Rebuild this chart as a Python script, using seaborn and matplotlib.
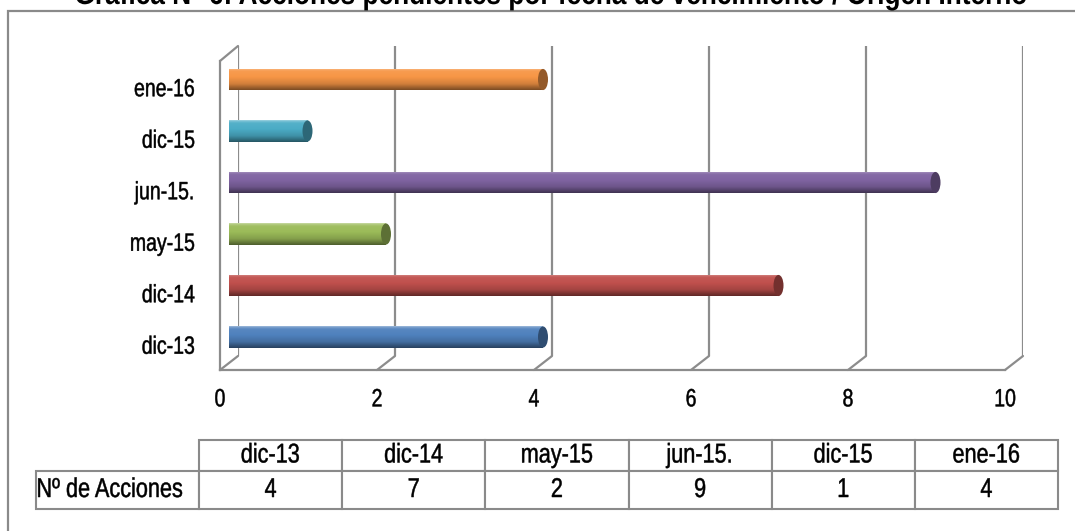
import numpy as np
import pandas as pd
import matplotlib
matplotlib.use("Agg")
import matplotlib.pyplot as plt
import seaborn as sns
from matplotlib.patches import Rectangle, Ellipse
from matplotlib.patches import ConnectionPatch
from matplotlib.table import Table
from matplotlib.colors import to_rgb
from matplotlib.patheffects import AbstractPathEffect
from matplotlib.transforms import Affine2D
from matplotlib import font_manager as fm

# ---------------- data ----------------
categories = ["dic-13", "dic-14", "may-15", "jun-15.", "dic-15", "ene-16"]
acciones = [4, 7, 2, 9, 1, 4]
colors = ["#4F81BD", "#C0504D", "#9BBB59", "#8064A2", "#4BACC6", "#F79646"]
x_ticks = [0, 2, 4, 6, 8, 10]
row_label = "Nº de Acciones"
title = "Gráfica N° 6: Acciones pendientes por fecha de vencimiento / Origen Interno"

sns.set_theme(style="white")
names = {f.name for f in fm.fontManager.ttflist}
FONT = "Liberation Sans" if "Liberation Sans" in names else "DejaVu Sans"
plt.rcParams["font.family"] = [FONT, "DejaVu Sans"]
for k in ["text.color", "xtick.color", "ytick.color", "axes.labelcolor"]:
    plt.rcParams[k] = "black"


class Condense(AbstractPathEffect):
    """Draw text horizontally condensed (Arial Narrow look), slightly emboldened."""
    def __init__(self, sx=0.82, anchor="center", stroke=0.35):
        super().__init__()
        self.sx = sx
        self.anchor = anchor
        self.stroke = stroke

    def draw_path(self, renderer, gc, tpath, affine, rgbFace=None):
        ext = tpath.get_extents()
        if self.anchor == "left":
            a = 0.0
        elif self.anchor == "right":
            a = ext.x1
        else:
            a = 0.5 * (ext.x0 + ext.x1)
        t = Affine2D().translate(-a, 0).scale(self.sx, 1).translate(a, 0) + affine
        gc0 = renderer.new_gc()
        gc0.copy_properties(gc)
        if rgbFace is not None and self.stroke > 0:
            gc0.set_foreground(rgbFace)
            gc0.set_linewidth(self.stroke)
            gc0.set_joinstyle("round")
        renderer.draw_path(gc0, tpath, t, rgbFace)
        gc0.restore()


W, H = 1075, 531
fig = plt.figure(figsize=(W / 100, H / 100), dpi=100)
fig.patch.set_facecolor("white")

def rect(l, t, r, b):
    return [l / W, 1 - b / H, (r - l) / W, (b - t) / H]

GRID = "#8c8c8c"

# outer chart frame
fig.patches.append(Rectangle((7.5 / W, -0.1), 1.2, 1.1 - 11 / H, transform=fig.transFigure,
                             fill=False, edgecolor="#8a8a8a", lw=1.6, clip_on=False))

# title (cropped at top as in reference)
ttl = fig.text(551 / W, 1 - 4 / H, title, ha="center", va="baseline", fontsize=20,
               fontweight="bold", color="black")
fig.canvas.draw()
tw = ttl.get_window_extent().width
ttl.set_fontsize(20 * 953.0 / tw / 0.85)
ttl.set_path_effects([Condense(0.85, "center", 0.0)])

# back wall axes
back = fig.add_axes(rect(238, 46, 1023, 356))
back.set_xlim(0, 10)
back.set_ylim(0, 1)
back.set_xticks(x_ticks)
back.set_yticks([])
back.tick_params(length=0, labelbottom=False)
back.grid(axis="x", color=GRID, lw=1.6)
for s in back.spines.values():
    s.set_visible(False)
back.patch.set_alpha(0)

# front (floor / left wall) axes with labels
LFS = 18
SX = 0.78
front = fig.add_axes(rect(220, 61, 1005, 370))
front.set_xlim(0, 10)
front.set_xticks(x_ticks)
front.set_xticklabels([str(t) for t in x_ticks], fontsize=LFS)
front.set_ylim(len(categories) - 0.5, -0.5)
front.set_yticks(range(len(categories)))
front.set_yticklabels(categories[::-1], fontsize=LFS)
front.tick_params(length=0)
front.tick_params(axis="x", pad=12.5)
front.tick_params(axis="y", pad=18)
for lab in front.get_xticklabels():
    lab.set_path_effects([Condense(SX, "center")])
for lab in front.get_yticklabels():
    lab.set_path_effects([Condense(SX, "right")])
for side in ["top", "right"]:
    front.spines[side].set_visible(False)
for side in ["left", "bottom"]:
    front.spines[side].set_color(GRID)
    front.spines[side].set_linewidth(1.6)
front.patch.set_alpha(0)

# depth connectors
for k in x_ticks:
    cp = ConnectionPatch(xyA=(k, 0), coordsA=front.get_xaxis_transform(),
                         xyB=(k, 0), coordsB=back.get_xaxis_transform(),
                         color=GRID, lw=1.6)
    fig.add_artist(cp)
fig.add_artist(ConnectionPatch(xyA=(0, 1), coordsA=front.transAxes,
                               xyB=(0, 1), coordsB=back.transAxes, color=GRID, lw=1.6))

# bars axes (mid depth)
bax = fig.add_axes(rect(229, 53.75, 1014, 362.75))
df = pd.DataFrame({"fecha": categories, "n": acciones})
pal = dict(zip(categories, colors))
order = categories[::-1]
sns.barplot(data=df, y="fecha", x="n", hue="fecha", order=order, hue_order=order,
            palette=pal, orient="h", width=0.41, legend=False, ax=bax, saturation=1)
bax.set_xlim(0, 10)
bax.set_ylim(len(categories) - 0.5, -0.5)
bax.axis("off")
bax.patch.set_alpha(0)

ppu = (1014 - 229) / 10.0  # pixels per unit on bar axis
cap_w = 10 / ppu
tvals = np.linspace(0, 1, 64)
for p, cat in zip(bax.patches, order):
    x0, y0, w, h = p.get_x(), p.get_y(), p.get_width(), p.get_height()
    base = np.array(to_rgb(pal[cat]))
    shade = np.interp(tvals, [0, 0.06, 0.14, 0.4, 0.72, 1.0], [1.45, 1.2, 1.05, 1.0, 0.85, 0.5])
    cols = []
    for s in shade:
        c = base + (1 - base) * (s - 1) if s >= 1 else base * s
        cols.append(np.clip(c, 0, 1))
    img = np.array(cols).reshape(-1, 1, 3)
    p.set_facecolor("none")
    p.set_edgecolor("none")
    im = bax.imshow(img, extent=[x0, x0 + w, y0 + h, y0], aspect="auto",
                    interpolation="bilinear", zorder=2)
    im.set_clip_path(p)
    le = Ellipse((x0, y0 + h / 2), cap_w, h, facecolor=base * 0.92, edgecolor="none", zorder=1.9)
    bax.add_patch(le)
    re = Ellipse((x0 + w, y0 + h / 2), cap_w, h, facecolor=base * 0.6, edgecolor="none", zorder=3)
    bax.add_patch(re)
bax.set_xlim(0, 10)
bax.set_ylim(len(categories) - 0.5, -0.5)

# data table
tax = fig.add_axes(rect(36, 440, 1058, 509))
tax.axis("off")
tbl = Table(tax, bbox=[0, 0, 1, 1])
total = 1058 - 36
lw_frac = (199 - 36) / total
cw_frac = (1058 - 199) / total / len(categories)
h1 = 31 / 69
h2 = 38 / 69
TFS = 19.5
TSX = 0.8
for j, cat in enumerate(categories):
    tbl.add_cell(0, j + 1, width=cw_frac, height=h1, text=cat, loc="center")
c = tbl.add_cell(1, 0, width=lw_frac, height=h2, text=row_label, loc="left")
c.PAD = 0.0025
for j, v in enumerate(acciones):
    tbl.add_cell(1, j + 1, width=cw_frac, height=h2, text=str(v), loc="center")
tbl.auto_set_font_size(False)
for (r, cidx), cell in tbl.get_celld().items():
    cell.set_edgecolor("#8a8a8a")
    cell.set_linewidth(1.5)
    txt = cell.get_text()
    txt.set_fontsize(TFS)
    txt.set_color("black")
    txt.set_path_effects([Condense(TSX, "left" if cidx == 0 else "center")])
tax.add_table(tbl)

fig.savefig("out.png", dpi=100, facecolor="white")
